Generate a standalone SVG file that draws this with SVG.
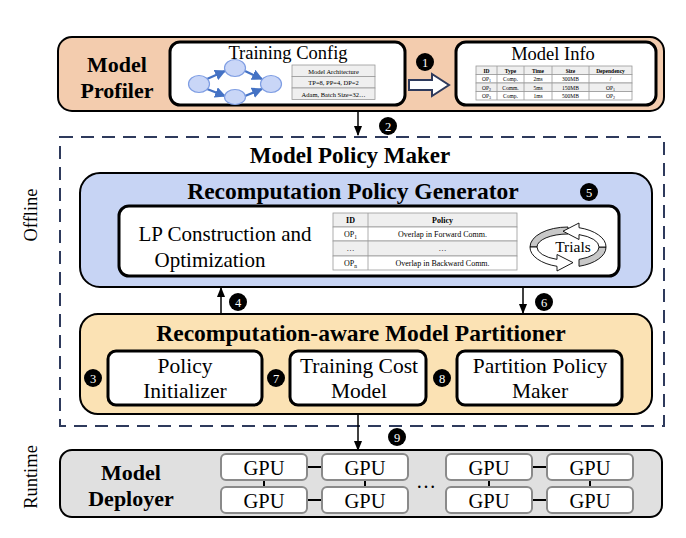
<svg xmlns="http://www.w3.org/2000/svg" width="686" height="538" viewBox="0 0 686 538">
<defs>
<style>
text{font-family:"Liberation Serif","Times New Roman",serif;fill:#000}
.b{font-weight:bold}
.c{text-anchor:middle}
.num{fill:#fff;font-size:12.5px;text-anchor:middle}
.inner{fill:#fff;stroke:#000;stroke-width:3}
.tb{fill:#EFEFEF;stroke:#9A9A9A;stroke-width:0.8}
.tbw{fill:#fff;stroke:#9A9A9A;stroke-width:0.8}
.gpu{fill:#fff;stroke:#8A8A8A;stroke-width:2}
.ln{stroke:#000;stroke-width:1.5;fill:none}
</style>
<marker id="ah" viewBox="0 0 10 10" refX="9" refY="5" markerWidth="7" markerHeight="7" orient="auto"><path d="M0,1 L10,5 L0,9 Z" fill="#000"/></marker>
<marker id="bh" viewBox="0 0 10 10" refX="9" refY="5" markerWidth="5" markerHeight="5" orient="auto"><path d="M0,0 L10,5 L0,10 Z" fill="#4472C4"/></marker>
</defs>

<!-- Model Profiler -->
<g id="model-profiler">
<rect x="58" y="37" width="606" height="74" rx="14" fill="#F3CCAE" stroke="#000" stroke-width="2"/>
<text x="117" y="72" class="b c" font-size="22">Model</text>
<text x="117" y="98" class="b c" font-size="22">Profiler</text>
</g>

<g id="training-config">
<rect x="170" y="42" width="235" height="63" rx="10" class="inner"/>
<text x="288" y="59" class="c" font-size="18.5">Training Config</text>
<g stroke="#4472C4" stroke-width="2.2" fill="none">
<line x1="207" y1="79" x2="225" y2="71" marker-end="url(#bh)"/>
<line x1="207" y1="89" x2="225" y2="96" marker-end="url(#bh)"/>
<line x1="245" y1="71" x2="262" y2="79" marker-end="url(#bh)"/>
<line x1="245" y1="96" x2="262" y2="89" marker-end="url(#bh)"/>
</g>
<g fill="#C9D6F7" stroke="#7E9DE3" stroke-width="1.2">
<ellipse cx="199" cy="84" rx="10.5" ry="8.5"/>
<ellipse cx="235" cy="68" rx="10.5" ry="8.5"/>
<ellipse cx="235" cy="97" rx="10.5" ry="7.5"/>
<ellipse cx="271" cy="84" rx="10.5" ry="8.5"/>
</g>
<rect x="292" y="65" width="83" height="11.5" class="tb"/>
<rect x="292" y="76.5" width="83" height="11.5" class="tb"/>
<rect x="292" y="88" width="83" height="11.5" class="tb"/>
<text x="333.5" y="73.5" class="c" font-size="6.5">Model Architecture</text>
<text x="333.5" y="85" class="c" font-size="6.5">TP=8, PP=4, DP=2</text>
<text x="333.5" y="96.5" class="c" font-size="6.5">Adam, Batch Size=32…</text>
</g>

<g id="step1-arrow">
<path d="M409,80 L432,80 L432,74 L449,85 L432,96 L432,90 L409,90 Z" fill="#fff" stroke="#2E3A5C" stroke-width="2"/>
</g>

<g id="model-info">
<rect x="456" y="42" width="200" height="63" rx="10" class="inner"/>
<text x="553" y="60" class="c" font-size="18.5">Model Info</text>
<g>
<rect x="476" y="66" width="156" height="8.5" class="tb"/>
<rect x="476" y="74.5" width="156" height="8.5" class="tbw"/>
<rect x="476" y="83" width="156" height="8.5" class="tb"/>
<rect x="476" y="91.5" width="156" height="8.5" class="tbw"/>
<g stroke="#9A9A9A" stroke-width="0.8">
<line x1="497" y1="66" x2="497" y2="100"/>
<line x1="524" y1="66" x2="524" y2="100"/>
<line x1="552" y1="66" x2="552" y2="100"/>
<line x1="589" y1="66" x2="589" y2="100"/>
</g>
<g font-size="5.5">
<text x="486.5" y="72.5" class="b c">ID</text>
<text x="510.5" y="72.5" class="b c">Type</text>
<text x="538" y="72.5" class="b c">Time</text>
<text x="570.5" y="72.5" class="b c">Size</text>
<text x="610.5" y="72.5" class="b c">Dependency</text>
<text x="486.5" y="81" class="c">OP<tspan font-size="4" dy="1">1</tspan></text>
<text x="510.5" y="81" class="c">Comp.</text>
<text x="538" y="81" class="c">2ms</text>
<text x="570.5" y="81" class="c">300MB</text>
<text x="610.5" y="81" class="c">/</text>
<text x="486.5" y="89.5" class="c">OP<tspan font-size="4" dy="1">2</tspan></text>
<text x="510.5" y="89.5" class="c">Comm.</text>
<text x="538" y="89.5" class="c">5ms</text>
<text x="570.5" y="89.5" class="c">150MB</text>
<text x="610.5" y="89.5" class="c">OP<tspan font-size="4" dy="1">1</tspan></text>
<text x="486.5" y="98" class="c">OP<tspan font-size="4" dy="1">3</tspan></text>
<text x="510.5" y="98" class="c">Comp.</text>
<text x="538" y="98" class="c">1ms</text>
<text x="570.5" y="98" class="c">500MB</text>
<text x="610.5" y="98" class="c">OP<tspan font-size="4" dy="1">2</tspan></text>
</g>
</g>
</g>

<!-- Offline / Runtime labels -->
<text x="0" y="0" font-size="18.5" class="c" transform="translate(37,215) rotate(-90)">Offline</text>
<text x="0" y="0" font-size="18.5" class="c" transform="translate(37,477) rotate(-90)">Runtime</text>

<!-- Model Policy Maker -->
<g id="model-policy-maker">
<rect x="60" y="137" width="604" height="289" fill="none" stroke="#2E3A5C" stroke-width="2" stroke-dasharray="13 8"/>
<text x="350" y="163" class="b c" font-size="23">Model Policy Maker</text>
</g>

<g id="recomputation-policy-generator">
<rect x="80" y="173" width="572" height="114" rx="20" fill="#C7D4F4" stroke="#000" stroke-width="2"/>
<text x="353" y="199" class="b c" font-size="23.5">Recomputation Policy Generator</text>
<rect x="119" y="206" width="500" height="70" rx="10" class="inner"/>
<text x="225" y="241" class="c" font-size="21">LP Construction and</text>
<text x="210" y="267" class="c" font-size="21">Optimization</text>
<rect x="333" y="213" width="184" height="14" class="tb"/>
<rect x="333" y="227" width="184" height="14" class="tbw"/>
<rect x="333" y="241" width="184" height="15" class="tb"/>
<rect x="333" y="256" width="184" height="14" class="tbw"/>
<line x1="368" y1="213" x2="368" y2="270" stroke="#9A9A9A" stroke-width="0.8"/>
<text x="350.5" y="223" class="b c" font-size="8">ID</text>
<text x="442.5" y="223" class="b c" font-size="8">Policy</text>
<text x="350.5" y="237" class="c" font-size="8">OP<tspan font-size="5.5" dy="1.5">1</tspan></text>
<text x="442.5" y="237" class="c" font-size="8">Overlap in Forward Comm.</text>
<text x="350.5" y="251" class="c" font-size="8" fill="#666">…</text>
<text x="442.5" y="251" class="c" font-size="8" fill="#666">…</text>
<text x="350.5" y="266" class="c" font-size="8">OP<tspan font-size="5.5" dy="1.5">n</tspan></text>
<text x="442.5" y="266" class="c" font-size="8">Overlap in Backward Comm.</text>
<!-- Trials icon -->
<g stroke="#000" stroke-width="0.9">
<path d="M568,227 A38,20 0 0 0 530,247 L537,247 A31,13 0 0 1 568,234 Z" fill="#C8C8C8"/>
<path d="M579,266.3 A38,20 0 0 0 606,247 L599,247 A31,13 0 0 1 579,259.4 Z" fill="#C8C8C8"/>
<path d="M530,247 A38,20 0 0 0 557,266.3 L557,271 L573,262.6 L557,254.5 L557,259.4 A31,13 0 0 1 537,247 Z" fill="#fff"/>
<path d="M606,247 A38,20 0 0 0 579,227.7 L579,223 L563,231.2 L579,239.5 L579,234.6 A31,13 0 0 1 599,247 Z" fill="#fff"/>
</g>
<text x="573" y="252" class="c" font-size="15.5">Trials</text>
</g>

<g id="recomputation-aware-model-partitioner">
<rect x="80" y="314" width="572" height="100" rx="18" fill="#FBE2B4" stroke="#000" stroke-width="2"/>
<text x="361" y="341" class="b c" font-size="23.5">Recomputation-aware Model Partitioner</text>
</g>
<g id="policy-initializer">
<rect x="108" y="351" width="154" height="54" rx="8" class="inner"/>
<text x="185" y="373" class="c" font-size="21.5">Policy</text>
<text x="185" y="398" class="c" font-size="21.5">Initializer</text>
</g>
<g id="training-cost-model">
<rect x="290" y="351" width="136" height="54" rx="8" class="inner"/>
<text x="359" y="373" class="c" font-size="21.5">Training Cost</text>
<text x="359" y="398" class="c" font-size="21.5">Model</text>
</g>
<g id="partition-policy-maker">
<rect x="457" y="351" width="165" height="54" rx="8" class="inner"/>
<text x="540" y="373" class="c" font-size="21.5">Partition Policy</text>
<text x="540" y="398" class="c" font-size="21.5">Maker</text>
</g>

<!-- Model Deployer -->
<g id="model-deployer">
<rect x="60" y="450" width="602" height="67" rx="12" fill="#E0E0E0" stroke="#000" stroke-width="2"/>
<text x="131" y="480" class="b c" font-size="22">Model</text>
<text x="131" y="506" class="b c" font-size="22">Deployer</text>
<g stroke="#000" stroke-width="2">
<line x1="307" y1="467" x2="322" y2="467"/>
<line x1="307" y1="500" x2="322" y2="500"/>
<line x1="532" y1="467" x2="547" y2="467"/>
<line x1="532" y1="500" x2="547" y2="500"/>
<line x1="264" y1="480" x2="264" y2="487"/>
<line x1="365" y1="480" x2="365" y2="487"/>
<line x1="489" y1="480" x2="489" y2="487"/>
<line x1="590" y1="480" x2="590" y2="487"/>
</g>
<rect x="221" y="454" width="86" height="26" rx="5" class="gpu"/>
<rect x="322" y="454" width="86" height="26" rx="5" class="gpu"/>
<rect x="446" y="454" width="86" height="26" rx="5" class="gpu"/>
<rect x="547" y="454" width="86" height="26" rx="5" class="gpu"/>
<rect x="221" y="487" width="86" height="26" rx="5" class="gpu"/>
<rect x="322" y="487" width="86" height="26" rx="5" class="gpu"/>
<rect x="446" y="487" width="86" height="26" rx="5" class="gpu"/>
<rect x="547" y="487" width="86" height="26" rx="5" class="gpu"/>
<g font-size="20.5">
<text x="264" y="474.5" class="c">GPU</text>
<text x="365" y="474.5" class="c">GPU</text>
<text x="489" y="474.5" class="c">GPU</text>
<text x="590" y="474.5" class="c">GPU</text>
<text x="264" y="507.5" class="c">GPU</text>
<text x="365" y="507.5" class="c">GPU</text>
<text x="489" y="507.5" class="c">GPU</text>
<text x="590" y="507.5" class="c">GPU</text>
</g>
<text x="426" y="488" class="c" font-size="20">…</text>
</g>

<!-- Connectors -->
<g id="connectors">
<line x1="358" y1="111" x2="358" y2="135" class="ln" marker-end="url(#ah)"/>
<line x1="221" y1="314" x2="221" y2="288" class="ln" marker-end="url(#ah)"/>
<line x1="523" y1="287" x2="523" y2="313" class="ln" marker-end="url(#ah)"/>
<line x1="358" y1="414" x2="358" y2="450" class="ln" marker-end="url(#ah)"/>
</g>

<!-- Step numbers -->
<g id="steps">
<circle cx="425" cy="62" r="9"/><text x="425" y="66.5" class="num">1</text>
<circle cx="388" cy="126" r="9"/><text x="388" y="130.5" class="num">2</text>
<circle cx="93" cy="378" r="9"/><text x="93" y="382.5" class="num">3</text>
<circle cx="238" cy="302" r="9"/><text x="238" y="306.5" class="num">4</text>
<circle cx="589" cy="192" r="9"/><text x="589" y="196.5" class="num">5</text>
<circle cx="544" cy="302" r="9"/><text x="544" y="306.5" class="num">6</text>
<circle cx="276" cy="378" r="9"/><text x="276" y="382.5" class="num">7</text>
<circle cx="442" cy="378" r="9"/><text x="442" y="382.5" class="num">8</text>
<circle cx="397" cy="437" r="9"/><text x="397" y="441.5" class="num">9</text>
</g>
</svg>
